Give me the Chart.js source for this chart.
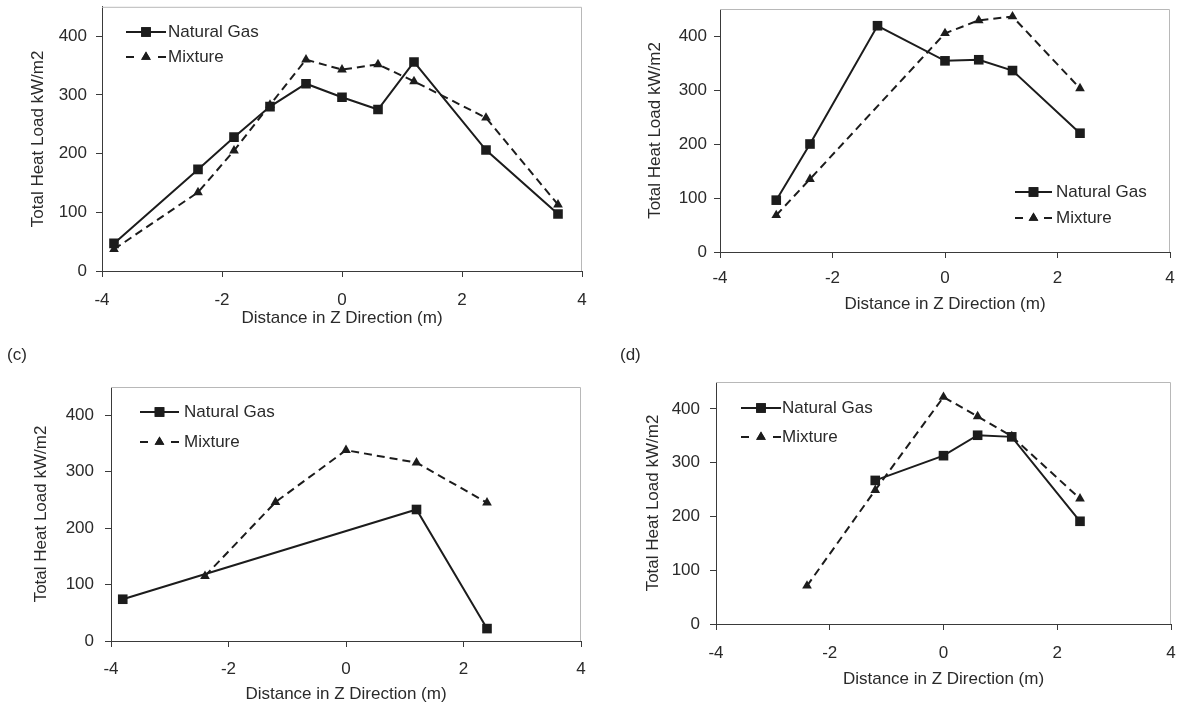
<!DOCTYPE html>
<html>
<head>
<meta charset="utf-8">
<title>Total heat load along Z</title>
<script src="https://cdn.jsdelivr.net/npm/chart.js@4/dist/chart.umd.min.js"></script>
<style>
  body { margin: 0; background: #fff; }
  #wrap { position: relative; width: 1178px; height: 708px; overflow: hidden; background: #fff; }
  #wrap canvas { position: absolute; }
  .tag { position: absolute; font: 17px "Liberation Sans", Arial, sans-serif; color: #2a2a2a; }
</style>
</head>
<body>
<div id="wrap">
  <canvas id="chartA" width="600" height="340" style="left:0;top:0"></canvas>
  <canvas id="chartB" width="578" height="340" style="left:600px;top:0"></canvas>
  <canvas id="chartC" width="600" height="368" style="left:0;top:340px"></canvas>
  <canvas id="chartD" width="578" height="368" style="left:600px;top:340px"></canvas>
  <div class="tag" style="left:7px;top:345px">(c)</div>
  <div class="tag" style="left:620px;top:345px">(d)</div>
</div>
<script>
// positions along the furnace (m) and total heat load (kW/m2)
const zA = [-3.8, -2.4, -1.8, -1.2, -0.6, 0, 0.6, 1.2, 2.4, 3.6];
const gasA = [47, 173, 228, 280, 319, 296, 275, 356, 206, 97];
const mixA = [37, 134, 205, 283, 360, 343, 352, 323, 261, 113];

const zGasB = [-3, -2.4, -1.2, 0, 0.6, 1.2, 2.4];
const gasB = [96, 200, 419, 354, 356, 336, 220];
const zMixB = [-3, -2.4, 0, 0.6, 1.2, 2.4];
const mixB = [68, 135, 405, 429, 436, 303];

const zGasC = [-3.8, 1.2, 2.4];
const gasC = [74, 233, 22];
const zMixC = [-2.4, -1.2, 0, 1.2, 2.4];
const mixC = [115, 246, 338, 316, 245];

const zGasD = [-1.2, 0, 0.6, 1.2, 2.4];
const gasD = [267, 313, 351, 348, 191];
const zMixD = [-2.4, -1.2, 0, 0.6, 1.2, 2.4];
const mixD = [71, 249, 422, 386, 349, 233];

const xTicks = [-4, -2, 0, 2, 4];
const yTicks = [0, 100, 200, 300, 400];
const seriesNames = ['Natural Gas', 'Mixture'];

const ink = '#1c1c1c';
const textColor = '#2a2a2a';
const axisColor = '#3a3a3a';
const frameColor = '#b8b8b8';
const font = { family: '"Liberation Sans", Arial, sans-serif', size: 17 };

const pairs = (xs, ys) => xs.map((x, i) => ({ x: x, y: ys[i] }));

// light grey top/right edge of the plot box
const framePlugin = {
  id: 'frame',
  beforeDatasetsDraw(chart) {
    const { ctx, chartArea: a } = chart;
    ctx.save();
    ctx.strokeStyle = frameColor;
    ctx.lineWidth = 1;
    ctx.beginPath();
    ctx.moveTo(a.left, a.top + 0.5);
    ctx.lineTo(a.right - 0.5, a.top + 0.5);
    ctx.lineTo(a.right - 0.5, a.bottom);
    ctx.stroke();
    ctx.restore();
  }
};

// line + marker legend, drawn where each panel wants it
const keyPlugin = {
  id: 'key',
  afterDatasetsDraw(chart, args, opts) {
    const { ctx } = chart;
    ctx.save();
    chart.data.datasets.forEach((ds, i) => {
      const y = opts.rows[i];
      const x1 = opts.x1, x2 = opts.x2, mid = (x1 + x2) / 2;
      ctx.strokeStyle = ink;
      ctx.lineWidth = 2;
      ctx.beginPath();
      if (ds.borderDash && ds.borderDash.length) {
        ctx.moveTo(x1, y); ctx.lineTo(x1 + 8, y);
        ctx.moveTo(x2 - 8, y); ctx.lineTo(x2, y);
      } else {
        ctx.moveTo(x1, y); ctx.lineTo(x2, y);
      }
      ctx.stroke();
      ctx.fillStyle = ink;
      Chart.helpers.drawPoint(ctx, {
        pointStyle: ds.pointStyle, radius: ds.pointRadius, rotation: 0, borderWidth: 0
      }, mid, y);
      ctx.fill();
      ctx.fillStyle = textColor;
      ctx.font = font.size + 'px ' + font.family;
      ctx.textBaseline = 'middle';
      ctx.textAlign = 'left';
      ctx.fillText(ds.label, opts.text, y);
    });
    ctx.restore();
  }
};

function heatChart(id, zGas, gas, zMix, mix, box) {
  const canvas = document.getElementById(id);
  const ctx = canvas.getContext('2d');
  const half = font.size * 1.2 / 2;
  return new Chart(ctx, {
    type: 'line',
    data: {
      datasets: [
        {
          label: seriesNames[0],
          data: pairs(zGas, gas),
          borderColor: ink,
          backgroundColor: ink,
          borderWidth: 2,
          pointStyle: 'rect',
          pointRadius: 6.8,
          pointBorderWidth: 0,
          tension: 0
        },
        {
          label: seriesNames[1],
          data: pairs(zMix, mix),
          borderColor: ink,
          backgroundColor: ink,
          borderWidth: 2,
          borderDash: [8, 5],
          pointStyle: 'triangle',
          pointRadius: 5.6,
          pointBorderWidth: 0,
          tension: 0
        }
      ]
    },
    options: {
      responsive: false,
      animation: false,
      events: [],
      layout: {
        padding: {
          left: 0,
          top: box.top,
          right: canvas.width - box.right,
          bottom: canvas.height - box.bottom - box.xh
        }
      },
      plugins: {
        legend: { display: false },
        tooltip: { enabled: false },
        key: box.key
      },
      scales: {
        x: {
          type: 'linear',
          min: xTicks[0],
          max: xTicks[xTicks.length - 1],
          afterBuildTicks: (s) => { s.ticks = xTicks.map(v => ({ value: v })); },
          ticks: { color: textColor, font: font, padding: box.xPad, maxRotation: 0 },
          grid: { drawOnChartArea: false, drawTicks: true, tickLength: 6, color: axisColor },
          border: { color: axisColor, width: 1 },
          title: {
            display: true,
            text: 'Distance in Z Direction (m)',
            color: textColor,
            font: font,
            padding: { top: 0, bottom: 0 }
          },
          afterFit: (s) => { s.height = box.xh; s.paddingLeft = 0; s.paddingRight = 0; }
        },
        y: {
          min: 0,
          max: 450,
          afterBuildTicks: (s) => { s.ticks = yTicks.map(v => ({ value: v })); },
          ticks: { color: textColor, font: font, padding: box.yPad },
          grid: { drawOnChartArea: false, drawTicks: true, tickLength: 6, color: axisColor },
          border: { color: axisColor, width: 1 },
          title: {
            display: true,
            text: 'Total Heat Load kW/m2',
            color: textColor,
            font: font,
            padding: { top: box.yTitle - half, bottom: 0 }
          },
          afterFit: (s) => { s.width = box.left; s.paddingTop = 0; s.paddingBottom = 0; }
        }
      }
    },
    plugins: [framePlugin, keyPlugin]
  });
}

heatChart('chartA', zA, gasA, zA, mixA, {
  left: 102, top: 5, right: 582, bottom: 271, xh: 58, xPad: 13, yPad: 9, yTitle: 38,
  key: { x1: 126, x2: 166, text: 168, rows: [32, 57] }
});
heatChart('chartB', zGasB, gasB, zMixB, mixB, {
  left: 120, top: 9, right: 570, bottom: 252, xh: 63, xPad: 10, yPad: 7, yTitle: 55,
  key: { x1: 415, x2: 452, text: 456, rows: [192, 218] }
});
heatChart('chartC', zGasC, gasC, zMixC, mixC, {
  left: 111, top: 47, right: 581, bottom: 301, xh: 64, xPad: 12, yPad: 11, yTitle: 41,
  key: { x1: 140, x2: 179, text: 184, rows: [72, 102] }
});
heatChart('chartD', zGasD, gasD, zMixD, mixD, {
  left: 116, top: 42, right: 571, bottom: 284, xh: 66, xPad: 13, yPad: 10, yTitle: 53,
  key: { x1: 141, x2: 181, text: 182, rows: [68, 97] }
});
</script>
</body>
</html>
